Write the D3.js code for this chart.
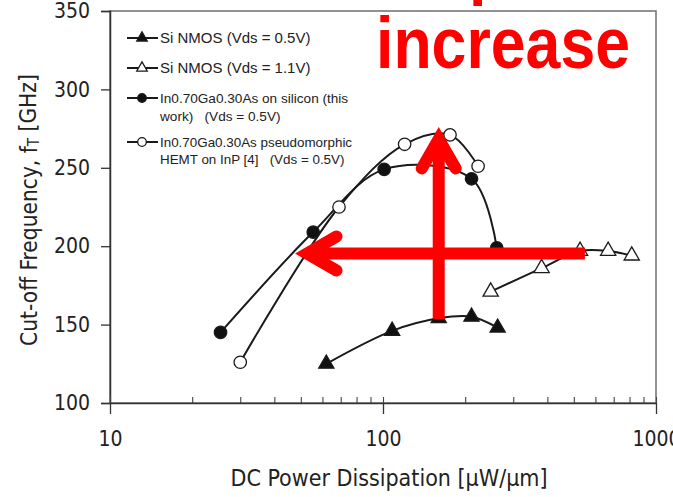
<!DOCTYPE html>
<html>
<head>
<meta charset="utf-8">
<script src="https://cdn.jsdelivr.net/npm/d3@7"></script>
<style>
  html, body { margin: 0; padding: 0; background: #fff; overflow: hidden; }
  svg { display: block; }
  .axis-font { font-family: "DejaVu Sans Condensed", "DejaVu Sans", sans-serif; fill: #222; }
  .legend-font { font-family: "Liberation Sans", Arial, sans-serif; fill: #222; white-space: pre; }
</style>
</head>
<body>
<svg id="chart" width="673" height="497"></svg>
<script>
// Axis ticks
const xMajorTicks = [10, 100, 1000];
const xMinorTicks = [20, 30, 40, 50, 60, 70, 80, 90, 200, 300, 400, 500, 600, 700, 800, 900];
const yTicks = [100, 150, 200, 250, 300, 350];

// Series: [DC power (µW/µm), fT (GHz)]
const siNmos05 = [[62, 125], [108, 146], [160, 154], [211, 155], [263, 148]];
const siNmos11 = [[248, 171], [381, 186], [527, 197], [668, 197], [815, 194]];
const ingaasSi = [[25.4, 145], [55.5, 209], [101, 249], [211, 243], [261, 199]];
const ingaasHemt = [[30, 126], [69, 225], [120, 265], [176, 271], [223, 251]];

// Legend entries (text lines)
const legendLines = [
  ["Si NMOS (Vds = 0.5V)"],
  ["Si NMOS (Vds = 1.1V)"],
  ["In0.70Ga0.30As on silicon (this", "work)   (Vds = 0.5V)"],
  ["In0.70Ga0.30As pseudomorphic", "HEMT on InP [4]   (Vds = 0.5V)"]
];

// Annotation arrows in data units: tail -> tip
const arrowLeft = { from: [549, 195.3], to: [52.7, 195.3] };
const arrowUp = { from: [160, 153.6], to: [160, 268.4] };
const annotationText = "increase";

const svg = d3.select("#chart");
const x = d3.scaleLog().domain([10, 1000]).range([110, 656]);
const y = d3.scaleLinear().domain([100, 350]).range([403, 11]);

// Plot frame
svg.append("rect")
  .attr("x", x(10)).attr("y", y(350))
  .attr("width", x(1000) - x(10)).attr("height", y(100) - y(350))
  .attr("fill", "none").attr("stroke", "#777").attr("stroke-width", 1.6);

// Y axis
const yAxis = svg.append("g")
  .attr("transform", `translate(${x(10)},0)`)
  .call(d3.axisLeft(y).tickValues(yTicks).tickSize(9).tickPadding(11).tickFormat(d3.format("d")));
yAxis.select(".domain").attr("stroke", "#333").attr("stroke-width", 1.5);
yAxis.selectAll(".tick line").attr("stroke", "#333").attr("stroke-width", 1.3);
yAxis.selectAll("text").attr("class", "axis-font").style("font-size", "21px");

// X axis: minor ticks point inward
const xMinor = svg.append("g")
  .attr("transform", `translate(0,${y(100)})`)
  .call(d3.axisBottom(x).tickValues(xMinorTicks.concat(xMajorTicks)).tickSize(-6).tickFormat(""));
xMinor.select(".domain").remove();
xMinor.selectAll(".tick line").attr("stroke", "#444").attr("stroke-width", 1.1);

const xAxis = svg.append("g")
  .attr("transform", `translate(0,${y(100)})`)
  .call(d3.axisBottom(x).tickValues(xMajorTicks).tickSize(11).tickSizeOuter(0).tickFormat(d3.format("d")));
xAxis.select(".domain").attr("stroke", "#333").attr("stroke-width", 1.5);
xAxis.selectAll(".tick line").attr("stroke", "#333").attr("stroke-width", 1.3);
xAxis.selectAll("text").attr("class", "axis-font").style("font-size", "21px")
  .attr("y", 43).attr("dy", 0);

// Axis titles
svg.append("text").attr("class", "axis-font")
  .attr("x", 389).attr("y", 486).attr("text-anchor", "middle")
  .style("font-size", "23px")
  .text("DC Power Dissipation [µW/µm]");

const yTitle = svg.append("text").attr("class", "axis-font")
  .attr("transform", "translate(37,210) rotate(-90)")
  .attr("text-anchor", "middle").style("font-size", "22.5px");
yTitle.append("tspan").text("Cut-off Frequency, f");
yTitle.append("tspan").attr("dy", "0.12em").style("font-size", "15px").text("T");
yTitle.append("tspan").attr("dy", "-0.12em").text(" [GHz]");

// Series lines
const line = d3.line().x(d => x(d[0])).y(d => y(d[1])).curve(d3.curveCatmullRom.alpha(0.5));
const seriesDefs = [
  { data: siNmos05, shape: "tri", fill: "#111" },
  { data: siNmos11, shape: "tri", fill: "#fff" },
  { data: ingaasSi, shape: "circ", fill: "#111" },
  { data: ingaasHemt, shape: "circ", fill: "#fff" }
];
seriesDefs.forEach(s => {
  svg.append("path").datum(s.data).attr("d", line)
    .attr("fill", "none").attr("stroke", "#1a1a1a").attr("stroke-width", 2);
});

function drawMarker(g, shape, fill, cx, cy, big) {
  if (shape === "tri") {
    g.append("path")
      .attr("d", d3.symbol(d3.symbolTriangle, big ? 100 : 48)())
      .attr("transform", `translate(${cx},${cy})`)
      .attr("fill", fill).attr("stroke", "#1a1a1a").attr("stroke-width", 1.3);
  } else {
    g.append("circle").attr("cx", cx).attr("cy", cy).attr("r", big ? 6.2 : 4.3)
      .attr("fill", fill).attr("stroke", "#1a1a1a").attr("stroke-width", 1.3);
  }
}

const marks = svg.append("g");
seriesDefs.forEach(s => {
  s.data.forEach(d => drawMarker(marks, s.shape, s.fill, x(d[0]), y(d[1]), true));
});

// Legend
const legendRows = [[38], [68], [98, 116], [142, 159]];
const legendSizes = [15, 15, 13.6, 13.4];
const legend = svg.append("g");
seriesDefs.forEach((s, i) => {
  const cy = legendRows[i][0];
  legend.append("line").attr("x1", 127).attr("x2", 158).attr("y1", cy).attr("y2", cy)
    .attr("stroke", "#1a1a1a").attr("stroke-width", 2);
  drawMarker(legend, s.shape, s.fill, 142, cy, false);
  legendLines[i].forEach((t, j) => {
    legend.append("text").attr("class", "legend-font")
      .attr("xml:space", "preserve")
      .attr("x", 160).attr("y", legendRows[i][j]).attr("dy", "0.35em")
      .style("font-size", legendSizes[i] + "px")
      .text(t);
  });
});

// Red annotation
const red = "#ff0000";
const ann = svg.append("g");
function arrow(a) {
  const p0 = [x(a.from[0]), y(a.from[1])];
  const p1 = [x(a.to[0]), y(a.to[1])];
  ann.append("line").attr("x1", p0[0]).attr("y1", p0[1]).attr("x2", p1[0]).attr("y2", p1[1])
    .attr("stroke", red).attr("stroke-width", 12);
  const ang = Math.atan2(p0[1] - p1[1], p0[0] - p1[0]);
  const L = 34, th = Math.PI / 6;
  const a1 = [p1[0] + L * Math.cos(ang + th), p1[1] + L * Math.sin(ang + th)];
  const a2 = [p1[0] + L * Math.cos(ang - th), p1[1] + L * Math.sin(ang - th)];
  ann.append("path").attr("d", `M${a1}L${p1}L${a2}`)
    .attr("fill", "none").attr("stroke", red).attr("stroke-width", 12)
    .attr("stroke-linecap", "round").attr("stroke-linejoin", "miter").attr("stroke-miterlimit", 10);
}
arrow(arrowLeft);
arrow(arrowUp);

ann.append("text")
  .attr("x", 376).attr("y", 68)
  .attr("textLength", 254).attr("lengthAdjust", "spacingAndGlyphs")
  .style("font-family", "'Liberation Sans', Arial, sans-serif")
  .style("font-weight", "bold").style("font-size", "72px")
  .attr("fill", red).text(annotationText);

// Line above, clipped at the top edge
ann.append("text")
  .attr("transform", "translate(469,-9) scale(0.87,1)")
  .style("font-family", "'Liberation Sans', Arial, sans-serif")
  .style("font-weight", "bold").style("font-size", "72px")
  .attr("fill", red).text("p");
</script>
</body>
</html>
